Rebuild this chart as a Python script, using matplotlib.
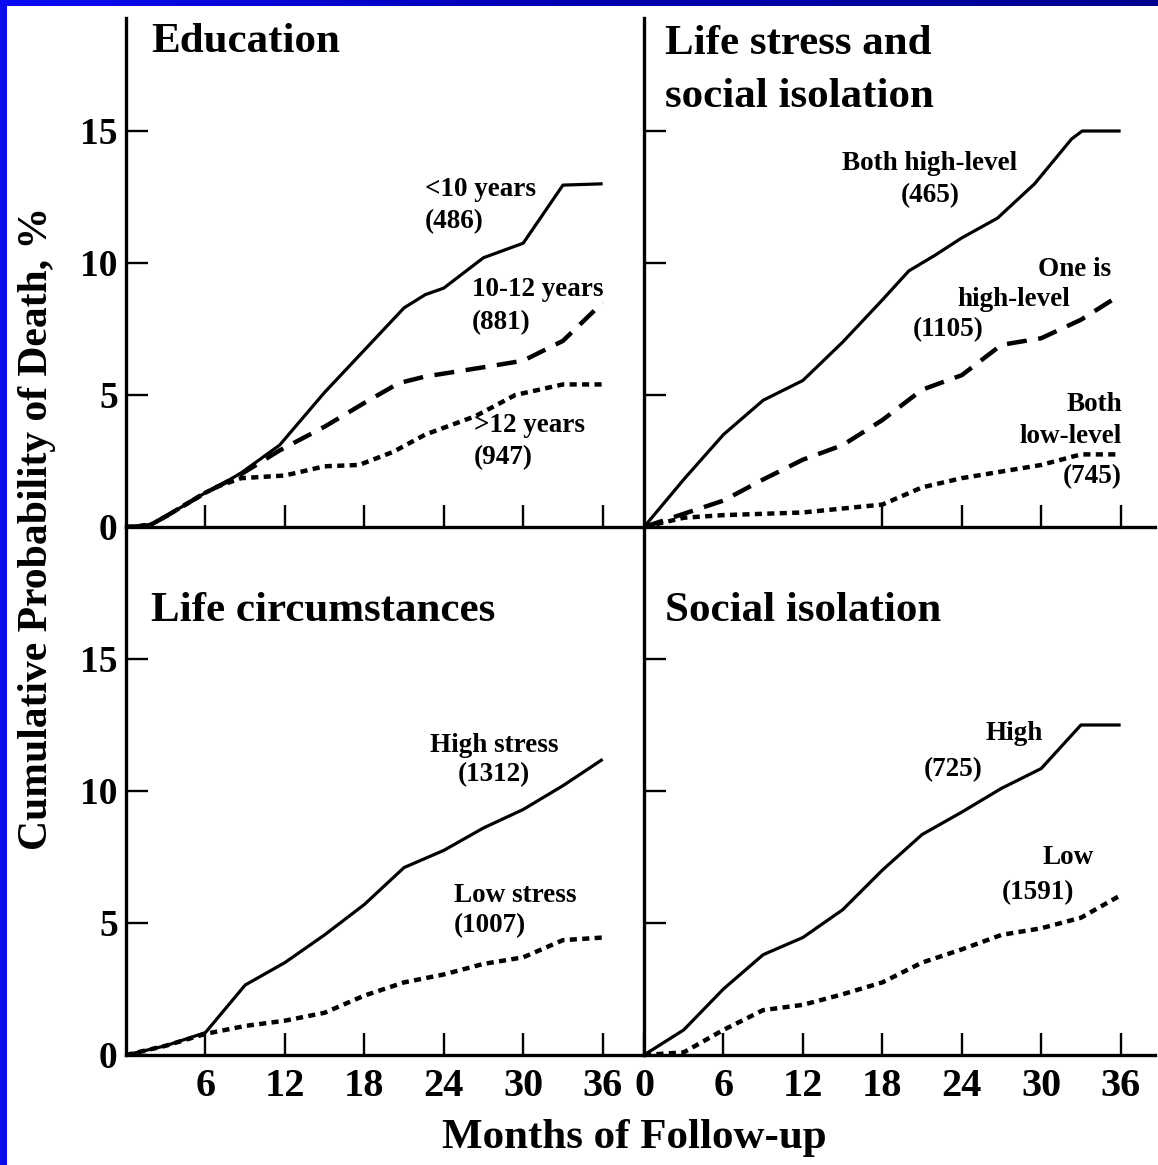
import numpy as np
import matplotlib
matplotlib.use("Agg")
import matplotlib.pyplot as plt
from matplotlib.patches import Rectangle
from matplotlib.colors import LinearSegmentedColormap

plt.rcParams['font.family'] = ['Liberation Serif', 'DejaVu Serif']

# ---------------- data ----------------
# Education
edu_lt10_m = [0, 1, 2, 3, 4, 5, 6, 7, 8.7, 11.6, 15, 18, 21, 22.6, 24, 27, 30, 33, 36]
edu_lt10_v = [0, 0.03, 0.12, 0.4, 0.7, 1.0, 1.3, 1.55, 2.05, 3.1, 5.1, 6.7, 8.3, 8.8, 9.05, 10.2, 10.75, 12.95, 13.0]
edu_1012_m = [0, 1, 2, 3, 4, 5, 6, 7, 8.7, 11.6, 15, 18, 20.6, 22.6, 27, 30, 33, 36]
edu_1012_v = [0, 0.03, 0.12, 0.4, 0.7, 1.0, 1.3, 1.55, 2.0, 2.9, 3.8, 4.7, 5.45, 5.7, 6.05, 6.3, 7.05, 8.5]
edu_gt12_m = [0, 1, 2, 3, 4, 5, 6, 7, 8.7, 12, 15, 17.6, 20.2, 22.6, 26.4, 29.4, 33, 36]
edu_gt12_v = [0, 0.03, 0.12, 0.4, 0.7, 1.0, 1.3, 1.55, 1.85, 1.95, 2.3, 2.35, 2.85, 3.5, 4.2, 5.0, 5.4, 5.4]

# Life stress and social isolation
ls_both_high_m = [0, 3, 6, 9, 12, 15, 18, 20, 22, 24, 26.7, 29.5, 32.3, 33.1, 36]
ls_both_high_v = [0, 1.8, 3.5, 4.8, 5.55, 7.0, 8.6, 9.7, 10.3, 10.95, 11.7, 13.0, 14.7, 15.0, 15.0]
ls_one_high_m = [0, 3, 6, 9, 12, 15, 18, 21, 24, 27, 30, 33, 36]
ls_one_high_v = [0, 0.5, 1.0, 1.8, 2.55, 3.1, 4.05, 5.2, 5.75, 6.9, 7.15, 7.85, 8.8]
ls_both_low_m = [0, 3, 6, 12, 18, 21, 24, 30, 33, 36]
ls_both_low_v = [0, 0.35, 0.45, 0.55, 0.85, 1.5, 1.85, 2.35, 2.75, 2.75]

# Life circumstances
lc_high_m = [0, 3, 6, 9, 12, 15, 18, 21, 24, 27, 30, 33, 36]
lc_high_v = [0, 0.35, 0.85, 2.65, 3.5, 4.55, 5.7, 7.1, 7.75, 8.6, 9.3, 10.2, 11.2]
lc_low_m = [0, 3, 6, 9, 12, 15, 18, 21, 24, 27, 30, 33, 36]
lc_low_v = [0, 0.35, 0.8, 1.1, 1.3, 1.6, 2.25, 2.75, 3.05, 3.45, 3.7, 4.35, 4.45]

# Social isolation
si_high_m = [0, 3, 6, 9, 12, 15, 18, 21, 24, 27, 30, 33, 36]
si_high_v = [0, 0.95, 2.5, 3.8, 4.45, 5.5, 7.0, 8.35, 9.2, 10.1, 10.85, 12.5, 12.5]
si_low_m = [0, 3, 6, 9, 12, 15, 18, 21, 24, 27, 30, 33, 36]
si_low_v = [0, 0.1, 0.95, 1.7, 1.9, 2.3, 2.75, 3.5, 4.0, 4.55, 4.8, 5.2, 6.05]

month_ticks = [6, 12, 18, 24, 30, 36]
y_ticks = [0, 5, 10, 15]

# ---------------- figure ----------------
W, H = 1158, 1165
fig = plt.figure(figsize=(W / 100, H / 100), dpi=100)
fig.patch.set_facecolor('white')

def px_axes(x0, y0, x1, y1):
    return fig.add_axes([x0 / W, 1 - y1 / H, (x1 - x0) / W, (y1 - y0) / H])

PX_PER_MONTH = 13.24
PX_PER_UNIT = 26.4
LX0, MX, RX1 = 126, 644, 1155
TY0, MY, BY1 = 18, 527, 1055

ax_tl = px_axes(LX0, TY0, MX, MY)
ax_tr = px_axes(MX, TY0, RX1, MY)
ax_bl = px_axes(LX0, MY, MX, BY1)
ax_br = px_axes(MX, MY, RX1, BY1)

SOLID = dict(color='black', lw=2.3, solid_capstyle='butt')
DASHED = dict(color='black', lw=3.2, dashes=(4.5, 2.6))
DOTTED = dict(color='black', lw=3.2, dashes=(1.6, 1.2))

TICKFS = 27
for ax, (x0, x1), (y0, y1) in [
    (ax_tl, (LX0, MX), (TY0, MY)), (ax_tr, (MX, RX1), (TY0, MY)),
    (ax_bl, (LX0, MX), (MY, BY1)), (ax_br, (MX, RX1), (MY, BY1))]:
    ax.set_xlim(0, (x1 - x0) / PX_PER_MONTH)
    ax.set_ylim(0, (y1 - y0) / PX_PER_UNIT)
    ax.patch.set_alpha(0)
    for s in ['top', 'right']:
        ax.spines[s].set_visible(False)
    for s in ['left', 'bottom']:
        ax.spines[s].set_linewidth(2.4)
    ax.tick_params(direction='in', length=16, width=1.7, labelsize=TICKFS)
    ax.tick_params(axis='y', pad=6)
    ax.tick_params(axis='x', pad=9)

# ticks
ax_tl.set_xticks(month_ticks)
ax_tl.set_xticklabels([])
ax_tr.set_xticks([18, 24, 30, 36])
ax_tr.set_xticklabels([])
ax_bl.set_xticks(month_ticks)
ax_bl.set_xticklabels([str(m) for m in month_ticks], fontweight='bold', fontsize=29)
ax_br.set_xticks([0] + month_ticks)
ax_br.set_xticklabels(['0'] + [str(m) for m in month_ticks], fontweight='bold', fontsize=29)

ax_tl.set_yticks(y_ticks)
ax_tl.set_yticklabels([str(v) for v in y_ticks], fontweight='bold', fontsize=TICKFS)
ax_bl.set_yticks(y_ticks)
ax_bl.set_yticklabels([str(v) for v in y_ticks], fontweight='bold', fontsize=TICKFS)
ax_tr.set_yticks([5, 10, 15])
ax_tr.set_yticklabels([])
ax_br.set_yticks([5, 10, 15])
ax_br.set_yticklabels([])

# curves
ax_tl.plot(edu_lt10_m, edu_lt10_v, **SOLID)
ax_tl.plot(edu_1012_m, edu_1012_v, **DASHED)
ax_tl.plot(edu_gt12_m, edu_gt12_v, **DOTTED)

ax_tr.plot(ls_both_high_m, ls_both_high_v, **SOLID)
ax_tr.plot(ls_one_high_m, ls_one_high_v, **DASHED)
ax_tr.plot(ls_both_low_m, ls_both_low_v, **DOTTED)

ax_bl.plot(lc_high_m, lc_high_v, **SOLID)
ax_bl.plot(lc_low_m, lc_low_v, **DOTTED)

ax_br.plot(si_high_m, si_high_v, **SOLID)
ax_br.plot(si_low_m, si_low_v, **DOTTED)

# text helpers (figure pixel coordinates)
def ftext(x, y, s, size, ha='left', va='center', weight='bold', **kw):
    fig.text(x / W, 1 - y / H, s, fontsize=size, ha=ha, va=va, fontweight=weight, **kw)

TITLEFS = 31
ftext(151, 42, 'Education', TITLEFS)
ftext(665, 44, 'Life stress and', TITLEFS)
ftext(665, 97, 'social isolation', TITLEFS)
ftext(151, 611, 'Life circumstances', TITLEFS)
ftext(665, 611, 'Social isolation', TITLEFS)

AFS = 19.5
ftext(425, 189, '<10 years', AFS)
ftext(425, 222, '(486)', AFS)
ftext(472, 290, '10-12 years', AFS)
ftext(472, 323, '(881)', AFS)
ftext(474, 425, '>12 years', AFS)
ftext(474, 458, '(947)', AFS)

ftext(930, 163, 'Both high-level', AFS, ha='center')
ftext(930, 196, '(465)', AFS, ha='center')
ftext(1111, 270, 'One is', AFS, ha='right')
ftext(1070, 299, 'high-level', AFS, ha='right')
ftext(984, 330, '(1105)', AFS, ha='right')
ftext(1122, 405, 'Both', AFS, ha='right')
ftext(1122, 436, 'low-level', AFS, ha='right')
ftext(1122, 477, '(745)', AFS, ha='right')

ftext(494, 745, 'High stress', AFS, ha='center')
ftext(494, 775, '(1312)', AFS, ha='center')
ftext(454, 895, 'Low stress', AFS)
ftext(454, 926, '(1007)', AFS)

ftext(1014, 733, 'High', AFS, ha='center')
ftext(953, 770, '(725)', AFS, ha='center')
ftext(1068, 858, 'Low', AFS, ha='center')
ftext(1038, 893, '(1591)', AFS, ha='center')

# axis labels
ftext(634, 1138, 'Months of Follow-up', 31, ha='center')
ftext(37, 528, 'Cumulative Probability of Death, %', 30, ha='center', rotation=90)

# slide border
fig.patches.append(Rectangle((0, 0), 7 / W, 1, transform=fig.transFigure,
                             facecolor='#0a0af5', edgecolor='none', zorder=10))
axg = fig.add_axes([0, 1 - 6 / H, 1, 6 / H])
grad = np.linspace(0, 1, 256)[None, :]
cmap = LinearSegmentedColormap.from_list('b', ['#0a0af5', '#0000b0', '#000090'])
axg.imshow(grad, aspect='auto', cmap=cmap)
axg.axis('off')

fig.savefig('out.png', dpi=100, facecolor='white')
